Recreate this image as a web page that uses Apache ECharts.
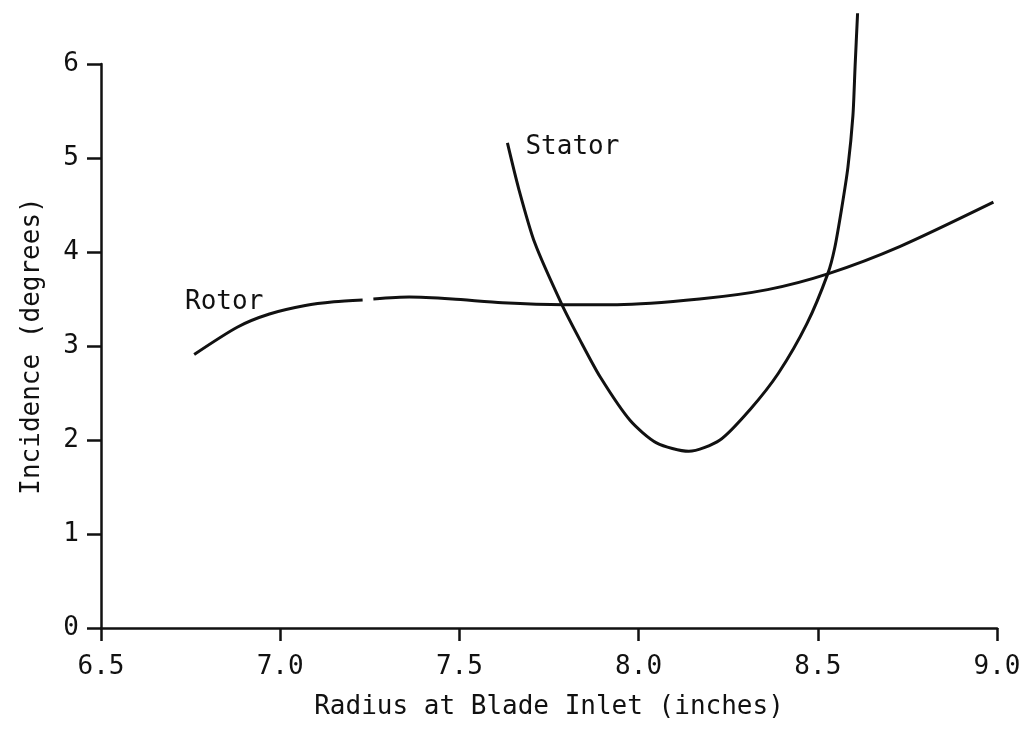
<!DOCTYPE html>
<html>
<head>
<meta charset="utf-8">
<script src="https://cdn.jsdelivr.net/npm/echarts@6/dist/echarts.min.js"></script>
<style>
  html, body { margin: 0; padding: 0; background: #fff; }
  #chart { width: 1028px; height: 742px; }
</style>
</head>
<body>
<div id="chart"></div>
<script>
// values
const X_TICKS = [6.5, 7.0, 7.5, 8.0, 8.5, 9.0];
const Y_TICKS = [0, 1, 2, 3, 4, 5, 6];

// rotor curve (null = small break in the printed line)
const rotorX = [6.76, 6.88, 6.97, 7.07, 7.15, 7.23, null, 7.26, 7.36, 7.48, 7.62, 7.79, 7.94, 8.17, 8.36, 8.53, 8.73, 8.99];
const rotorY = [2.91, 3.20, 3.34, 3.43, 3.47, 3.49, null, 3.50, 3.52, 3.50, 3.46, 3.44, 3.44, 3.50, 3.60, 3.77, 4.06, 4.53];

// stator curve
const statorX = [7.634, 7.665, 7.71, 7.786, 7.837, 7.893, 7.976, 8.05, 8.14, 8.227, 8.31, 8.39, 8.47, 8.528, 8.547, 8.566, 8.584, 8.598, 8.604, 8.611];
const statorY = [5.16, 4.68, 4.10, 3.44, 3.06, 2.67, 2.21, 1.97, 1.88, 2.00, 2.32, 2.71, 3.24, 3.77, 4.04, 4.45, 4.90, 5.45, 5.97, 6.54];

const FONT = "'DejaVu Sans Mono', monospace";
const FS = 26;
const INK = "#111";

const toPoints = (xs, ys) => xs.map((x, i) => (x === null ? [null, null] : [x, ys[i]]));

const rotorData = toPoints(rotorX, rotorY);
// curve names sit next to the first point of each curve
rotorData[0] = {
  value: rotorData[0],
  label: { show: true, formatter: "Rotor", position: "top", offset: [30, -34] },
};
const statorData = toPoints(statorX, statorY);
statorData[0] = {
  value: statorData[0],
  label: { show: true, formatter: "Stator", position: "right", distance: 18, offset: [0, 4] },
};

const chart = echarts.init(document.getElementById("chart"));

const lineSeries = (name, data) => ({
  name,
  type: "line",
  data,
  smooth: 0.25,
  showSymbol: true,
  symbol: "circle",
  symbolSize: 0,
  connectNulls: false,
  clip: false,
  animation: false,
  lineStyle: { color: INK, width: 3 },
  itemStyle: { color: INK },
  label: { show: false, color: INK, fontFamily: FONT, fontSize: FS },
});

chart.setOption({
  backgroundColor: "#fff",
  grid: { left: 101, right: 31, top: 64, bottom: 114 },
  xAxis: {
    type: "value",
    min: 6.5,
    max: 9.0,
    interval: 0.5,
    name: "Radius at Blade Inlet (inches)",
    nameLocation: "middle",
    nameGap: 66,
    nameTextStyle: { color: INK, fontFamily: FONT, fontSize: FS },
    axisLine: { show: true, lineStyle: { color: INK, width: 2.5 } },
    axisTick: { show: true, length: 13, lineStyle: { color: INK, width: 2.5 } },
    axisLabel: {
      color: INK,
      fontFamily: FONT,
      fontSize: FS,
      margin: 26,
      formatter: (v) => (X_TICKS.includes(v) ? v.toFixed(1) : ""),
    },
    splitLine: { show: false },
  },
  yAxis: {
    type: "value",
    min: 0,
    max: 6,
    interval: 1,
    name: "Incidence (degrees)",
    nameLocation: "middle",
    nameGap: 56,
    nameTextStyle: { color: INK, fontFamily: FONT, fontSize: FS },
    axisLine: { show: true, lineStyle: { color: INK, width: 2.5 } },
    axisTick: { show: true, length: 14, lineStyle: { color: INK, width: 2.5 } },
    axisLabel: {
      color: INK,
      fontFamily: FONT,
      fontSize: FS,
      margin: 22,
      formatter: (v) => (Y_TICKS.includes(v) ? String(v) : ""),
    },
    splitLine: { show: false },
  },
  series: [lineSeries("Rotor", rotorData), lineSeries("Stator", statorData)],
});
</script>
</body>
</html>
